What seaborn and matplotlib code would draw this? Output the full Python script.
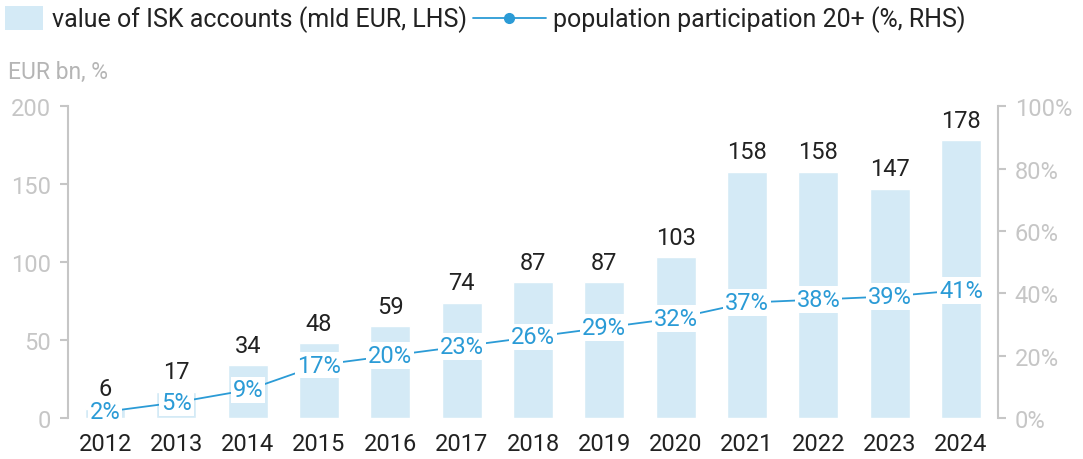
import matplotlib
matplotlib.use("Agg")
import matplotlib.pyplot as plt
from matplotlib.patches import Rectangle
from matplotlib.lines import Line2D
from matplotlib.ticker import PercentFormatter
import numpy as np
import pandas as pd
import seaborn as sns

years = ["2012", "2013", "2014", "2015", "2016", "2017", "2018",
         "2019", "2020", "2021", "2022", "2023", "2024"]
isk_value = [6, 17, 34, 48, 59, 74, 87, 87, 103, 158, 158, 147, 178]
participation = [2, 5, 9, 17, 20, 23, 26, 29, 32, 37, 38, 39, 41]

BAR = "#d4eaf6"
LINE = "#2b9bd6"
GREY = "#c6c6c6"
TXT = "#222222"
FS = 17

sns.set_theme(style="white")
plt.rcParams["font.family"] = ["Roboto", "DejaVu Sans"]

df = pd.DataFrame({"year": years, "value": isk_value, "pct": participation})

fig = plt.figure(figsize=(10.83, 4.6), dpi=100)
ax = fig.add_axes([0.0628, 0.089, 0.8587, 0.678])

sns.barplot(data=df, x="year", y="value", color=BAR, width=0.56,
            saturation=1, ax=ax, zorder=1)
ax.set_xlim(-0.52, len(years) - 0.48)
ax.set_ylim(0, 200)
ax.set_yticks([0, 50, 100, 150, 200])
ax.set_xlabel("")
ax.set_ylabel("")

for i, v in enumerate(isk_value):
    ax.annotate(str(v), (i, v), xytext=(0, 6), textcoords="offset points",
                ha="center", va="bottom", fontsize=FS, color=TXT)

ax2 = ax.twinx()
x = np.arange(len(years))
sns.lineplot(x=x, y=participation, color=LINE, lw=1.3, ax=ax2, zorder=3)
ax2.set_ylim(0, 100)
ax2.set_yticks([0, 20, 40, 60, 80, 100])
ax2.yaxis.set_major_formatter(PercentFormatter(decimals=0))
for i, p in enumerate(participation):
    ax2.text(i, p, f"{p}%", ha="center", va="center", fontsize=FS,
             color=LINE, zorder=4,
             bbox=dict(boxstyle="square,pad=0.08", fc="white", ec="none"))

for a in (ax, ax2):
    for s in ("top", "bottom"):
        a.spines[s].set_visible(False)
    a.tick_params(axis="y", colors=GREY, labelcolor=GREY, labelsize=FS,
                  length=6, width=1.5, direction="out", pad=6)
    a.tick_params(axis="x", length=0, labelsize=FS, labelcolor=TXT, pad=10)
ax.spines["left"].set_color(GREY)
ax.spines["left"].set_linewidth(1.5)
ax.spines["right"].set_visible(False)
ax2.spines["left"].set_visible(False)
ax2.spines["right"].set_color(GREY)
ax2.spines["right"].set_linewidth(1.5)

fig.text(0.007, 0.843, "EUR bn, %", fontsize=16.5, color="#b5b5b5",
         va="center", ha="left")

# two separate legends so the patch and the line get their own handle length
leg1 = fig.legend([Rectangle((0, 0), 1, 1, fc=BAR, ec="none")],
                  ["value of ISK accounts (mld EUR, LHS)"],
                  loc="center left", bbox_to_anchor=(5 / 1083, 1 - 20 / 460),
                  frameon=False, fontsize=18, handlelength=1.5,
                  handleheight=1.1, handletextpad=0.4, borderpad=0,
                  borderaxespad=0, labelcolor=TXT)
leg2 = fig.legend([Line2D([0], [0], color=LINE, lw=1.3, marker="o", ms=7)],
                  ["population participation 20+ (%, RHS)"],
                  loc="center left", bbox_to_anchor=(473 / 1083, 1 - 20 / 460),
                  frameon=False, fontsize=18, handlelength=2.9,
                  handletextpad=0.3, borderpad=0, borderaxespad=0,
                  labelcolor=TXT)

fig.savefig("out.png", dpi=100)
